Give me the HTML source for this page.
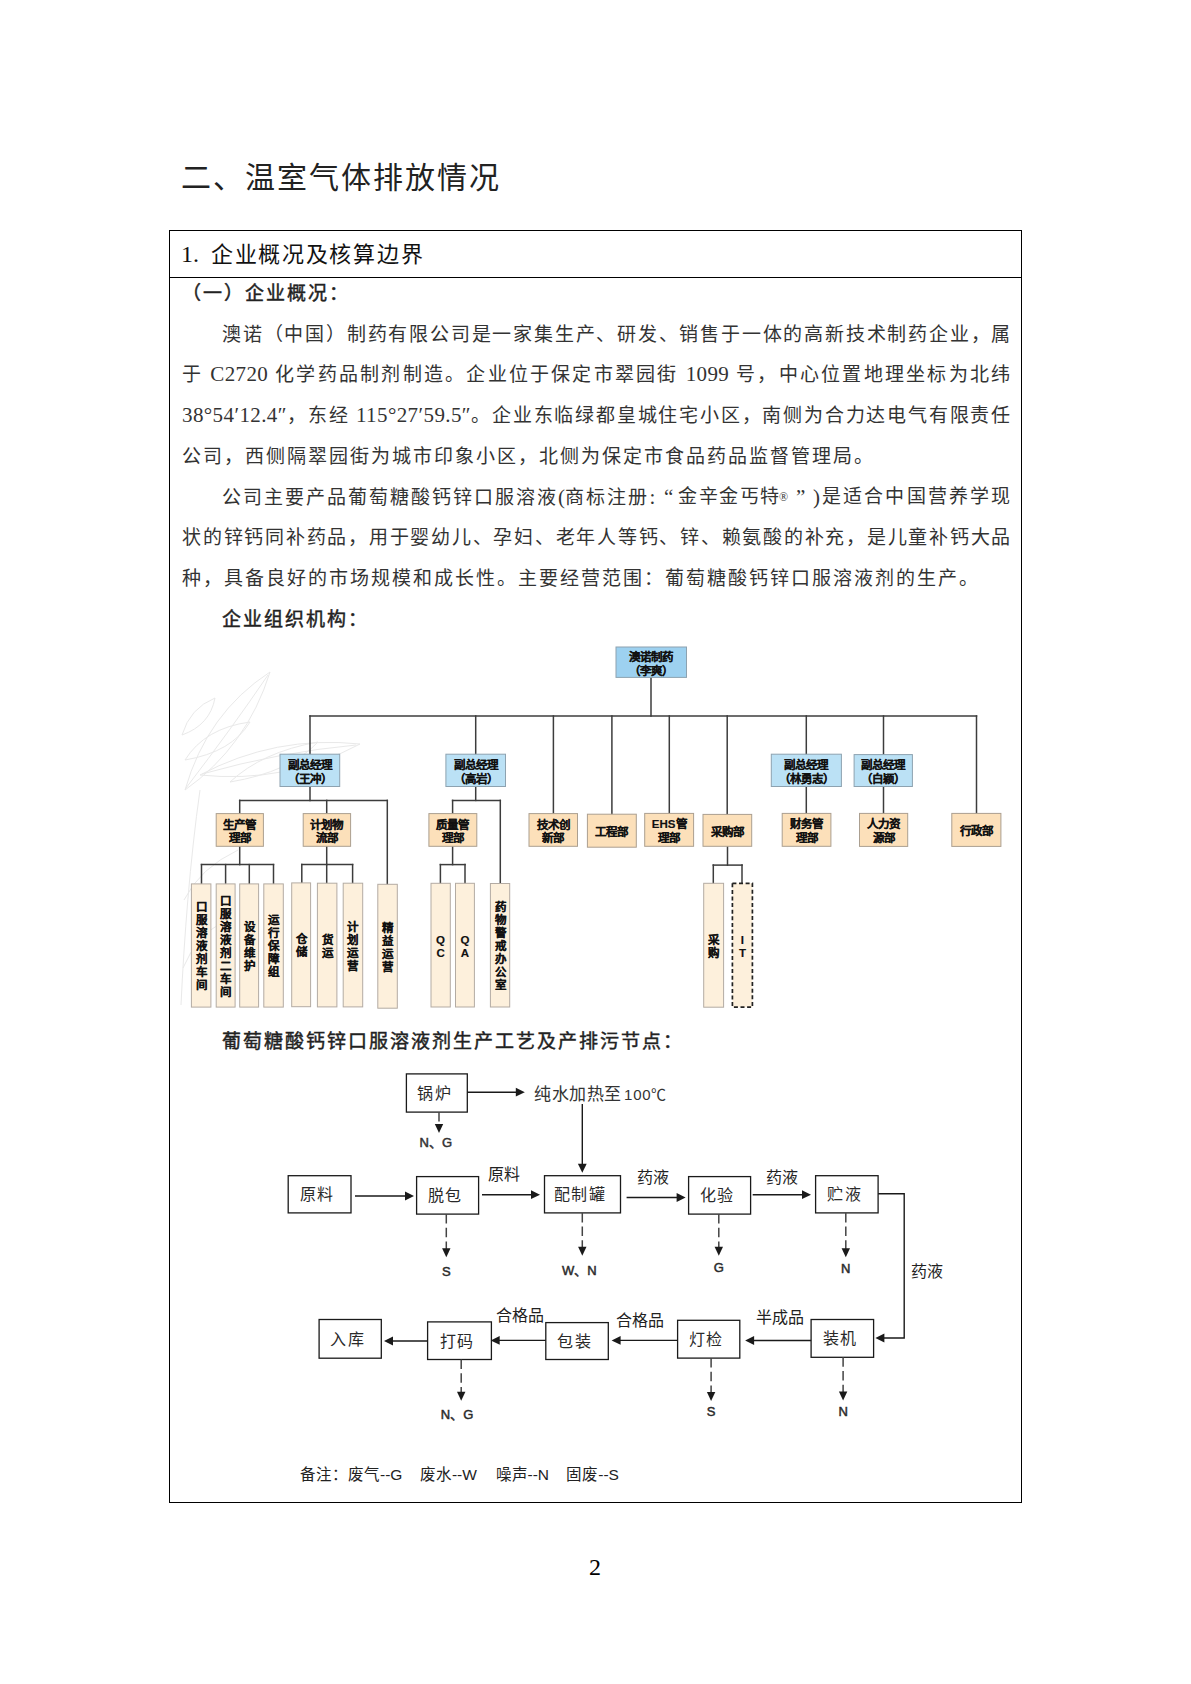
<!DOCTYPE html>
<html lang="zh-CN">
<head>
<meta charset="utf-8">
<style>
html,body{margin:0;padding:0;background:#fff;}
body{width:1191px;height:1684px;position:relative;overflow:hidden;font-family:"Liberation Serif",serif;color:#000;}
.a{position:absolute;white-space:nowrap;}
.title{left:181px;top:158px;font-size:30px;line-height:40px;letter-spacing:2px;color:#222;}
.tbl{position:absolute;left:169px;top:230px;width:851px;height:1271px;border:1px solid #000;}
.hdr{position:absolute;left:169px;top:277px;width:853px;height:1px;background:#000;}
.h1{left:181px;top:238px;font-size:22px;line-height:32px;letter-spacing:1.7px;color:#111;}
.ln{position:absolute;left:182px;width:830px;font-size:19px;letter-spacing:2px;line-height:30px;height:30px;white-space:nowrap;text-align:justify;text-align-last:justify;color:#333;}
.e{font-size:21px;letter-spacing:0.4px;}
.q{display:inline-block;width:19px;font-size:21px;letter-spacing:0;}
.ln.ind{left:222px;width:790px;}
.ln.l{text-align:left;text-align-last:left;}
.b{font-weight:normal;-webkit-text-stroke:0.45px #222;color:#222;}
.org{position:absolute;left:0;top:0;}
.pg{left:589px;top:1552px;font-size:24px;line-height:30px;}
</style>
</head>
<body>
<div class="a title">二、温室气体排放情况</div>
<div class="tbl"></div>
<div class="hdr"></div>
<div class="a h1"><span style="font-size:24px;letter-spacing:0">1.</span><span style="display:inline-block;width:12px"></span>企业概况及核算边界</div>

<div class="ln l b" style="top:279px;left:182px;">（一）企业概况：</div>
<div class="ln ind" style="top:320px;letter-spacing:1.6px">澳诺（中国）制药有限公司是一家集生产、研发、销售于一体的高新技术制药企业，属</div>
<div class="ln" style="top:359px;">于 <span class="e">C2720</span> 化学药品制剂制造。企业位于保定市翠园街 <span class="e">1099</span> 号，中心位置地理坐标为北纬</div>
<div class="ln" style="top:400px;letter-spacing:1.7px"><span class="e">38°54′12.4″</span>，东经 <span class="e">115°27′59.5″</span>。企业东临绿都皇城住宅小区，南侧为合力达电气有限责任</div>
<div class="ln l" style="top:442px;">公司，西侧隔翠园街为城市印象小区，北侧为保定市食品药品监督管理局。</div>
<div class="ln l" style="top:482px;left:222px;width:450px;">公司主要产品葡萄糖酸钙锌口服溶液<span class="e">(</span>商标注册<span class="e">:</span></div><div class="ln l" style="top:482px;left:664px;width:160px;letter-spacing:1.5px"><span class="e">“</span></div><div class="ln l" style="top:482px;left:678px;width:160px;letter-spacing:1.5px">金辛金丐特</div><div class="ln l" style="top:482px;left:779px;width:40px;"><span class="e" style="font-size:12px;position:relative;top:-2px">®</span></div><div class="ln l" style="top:482px;left:796px;width:30px;"><span class="e">”</span></div><div class="ln l" style="top:482px;left:813px;width:30px;"><span class="e">)</span></div><div class="ln" style="top:482px;left:822px;width:190px;">是适合中国营养学现</div>
<div class="ln" style="top:523px;letter-spacing:1.6px">状的锌钙同补药品，用于婴幼儿、孕妇、老年人等钙、锌、赖氨酸的补充，是儿童补钙大品</div>
<div class="ln l" style="top:564px;">种，具备良好的市场规模和成长性。主要经营范围：葡萄糖酸钙锌口服溶液剂的生产。</div>
<div class="ln l b" style="top:605px;left:222px;">企业组织机构：</div>

<div class="ln l b" style="top:1027px;left:222px;">葡萄糖酸钙锌口服溶液剂生产工艺及产排污节点：</div>

<!--ORG--><svg class="org" width="1191" height="1684" viewBox="0 0 1191 1684"><g fill="none" stroke="#e9e9e9" stroke-width="1"><path d="M185,790 Q207,713 270,672 Q247,746 185,790 Z"/><path d="M186,788 Q232,728 268,675"/><path d="M200,775 Q275,735 360,744 Q285,784 200,775 Z"/><path d="M202,774 Q280,752 356,745"/><path d="M182,735 Q190,708 215,698 Q210,725 182,735 Z"/><path d="M185,760 Q205,728 250,722 Q232,752 185,760 Z"/><path d="M230,782 Q262,752 318,742 Q290,772 230,782 Z"/><path d="M181,1005 C184,940 190,860 200,790"/><path d="M184,900 Q200,868 238,850"/><path d="M183,968 Q196,936 226,920"/></g><g stroke="#3c3c3c" stroke-width="1.5" stroke-linecap="square"><line x1="651" y1="677" x2="651" y2="716"/><line x1="310" y1="716" x2="976.5" y2="716"/><line x1="310" y1="716" x2="310" y2="754"/><line x1="475.7" y1="716" x2="475.7" y2="754"/><line x1="553.4" y1="716" x2="553.4" y2="813.6"/><line x1="611.9" y1="716" x2="611.9" y2="814"/><line x1="669.3" y1="716" x2="669.3" y2="813.4"/><line x1="727.2" y1="716" x2="727.2" y2="814"/><line x1="806.3" y1="716" x2="806.3" y2="754"/><line x1="883.5" y1="716" x2="883.5" y2="754.5"/><line x1="976.5" y1="716" x2="976.5" y2="813.4"/><line x1="310" y1="786.5" x2="310" y2="800.4"/><line x1="239.7" y1="800.4" x2="387.3" y2="800.4"/><line x1="239.7" y1="800.4" x2="239.7" y2="813.6"/><line x1="326.7" y1="800.4" x2="326.7" y2="813.6"/><line x1="387.3" y1="800.4" x2="387.3" y2="884.3"/><line x1="239.7" y1="846.3" x2="239.7" y2="864.6"/><line x1="201.5" y1="864.6" x2="273.5" y2="864.6"/><line x1="201.5" y1="864.6" x2="201.5" y2="883.9"/><line x1="225.6" y1="864.6" x2="225.6" y2="883.9"/><line x1="249.3" y1="864.6" x2="249.3" y2="883.9"/><line x1="273.5" y1="864.6" x2="273.5" y2="883.9"/><line x1="326.7" y1="846.3" x2="326.7" y2="864.6"/><line x1="301.8" y1="864.6" x2="352.6" y2="864.6"/><line x1="301.8" y1="864.6" x2="301.8" y2="883"/><line x1="326.7" y1="864.6" x2="326.7" y2="883"/><line x1="352.6" y1="864.6" x2="352.6" y2="883"/><line x1="475.7" y1="786.5" x2="475.7" y2="800.4"/><line x1="452.6" y1="800.4" x2="500.3" y2="800.4"/><line x1="452.6" y1="800.4" x2="452.6" y2="813.6"/><line x1="500.3" y1="800.4" x2="500.3" y2="883.5"/><line x1="452.6" y1="846.3" x2="452.6" y2="864.6"/><line x1="440.4" y1="864.6" x2="465" y2="864.6"/><line x1="440.4" y1="864.6" x2="440.4" y2="883.3"/><line x1="465" y1="864.6" x2="465" y2="883.3"/><line x1="727.5" y1="846.3" x2="727.5" y2="865.1"/><line x1="713.3" y1="865.1" x2="742" y2="865.1"/><line x1="713.3" y1="865.1" x2="713.3" y2="883.3"/><line x1="742" y1="865.1" x2="742" y2="883.3"/><line x1="806.3" y1="786.5" x2="806.3" y2="813.4"/><line x1="883.5" y1="786.5" x2="883.5" y2="813.4"/></g><g><rect x="616" y="647" width="70.5" height="30.4" fill="#9dd1f0" stroke="#8da2b0" stroke-width="1"/><rect x="280" y="754.2" width="59.7" height="32.3" fill="#bbe1f5" stroke="#8da2b0" stroke-width="1"/><rect x="445.9" y="754.2" width="59.6" height="32.3" fill="#bbe1f5" stroke="#8da2b0" stroke-width="1"/><rect x="771.3" y="754.2" width="70.1" height="32.3" fill="#bbe1f5" stroke="#8da2b0" stroke-width="1"/><rect x="854.1" y="754.6" width="58.3" height="31.9" fill="#bbe1f5" stroke="#8da2b0" stroke-width="1"/><rect x="216.2" y="813.6" width="47.2" height="32.7" fill="#fce0ba" stroke="#ab9f90" stroke-width="1"/><rect x="303.2" y="813.6" width="47.4" height="32.7" fill="#fce0ba" stroke="#ab9f90" stroke-width="1"/><rect x="428.9" y="813.6" width="47.9" height="32.7" fill="#fce0ba" stroke="#ab9f90" stroke-width="1"/><rect x="529" y="813.6" width="48.5" height="32.7" fill="#fce0ba" stroke="#ab9f90" stroke-width="1"/><rect x="587.4" y="814.2" width="48.9" height="33.0" fill="#fce0ba" stroke="#ab9f90" stroke-width="1"/><rect x="644.7" y="813.4" width="48.9" height="32.9" fill="#fce0ba" stroke="#ab9f90" stroke-width="1"/><rect x="703" y="814.4" width="48.7" height="31.9" fill="#fce0ba" stroke="#ab9f90" stroke-width="1"/><rect x="782.2" y="813.4" width="48.7" height="32.9" fill="#fce0ba" stroke="#ab9f90" stroke-width="1"/><rect x="859.5" y="813.4" width="48.2" height="33.0" fill="#fce0ba" stroke="#ab9f90" stroke-width="1"/><rect x="951.8" y="813.4" width="49.1" height="33.0" fill="#fce0ba" stroke="#ab9f90" stroke-width="1"/><rect x="191.4" y="883.9" width="19.5" height="123.2" fill="#fdf0dc" stroke="#b3aba3" stroke-width="1"/><rect x="216.2" y="883.9" width="18.9" height="123.2" fill="#fdf0dc" stroke="#b3aba3" stroke-width="1"/><rect x="239.7" y="883.9" width="18.9" height="123.2" fill="#fdf0dc" stroke="#b3aba3" stroke-width="1"/><rect x="263.8" y="883.9" width="19.5" height="123.2" fill="#fdf0dc" stroke="#b3aba3" stroke-width="1"/><rect x="291.7" y="882.9" width="18.9" height="123.8" fill="#fdf0dc" stroke="#b3aba3" stroke-width="1"/><rect x="317.4" y="883.2" width="19.5" height="123.7" fill="#fdf0dc" stroke="#b3aba3" stroke-width="1"/><rect x="343.2" y="883.2" width="19.5" height="123.7" fill="#fdf0dc" stroke="#b3aba3" stroke-width="1"/><rect x="377.8" y="884.3" width="19.5" height="123.9" fill="#fdf0dc" stroke="#b3aba3" stroke-width="1"/><rect x="431" y="883.3" width="19.3" height="123.7" fill="#fdf0dc" stroke="#b3aba3" stroke-width="1"/><rect x="455.5" y="883.3" width="18.9" height="123.7" fill="#fdf0dc" stroke="#b3aba3" stroke-width="1"/><rect x="490.4" y="883.5" width="19.3" height="123.5" fill="#fdf0dc" stroke="#b3aba3" stroke-width="1"/><rect x="703.7" y="883.3" width="19.9" height="123.9" fill="#fdf0dc" stroke="#b3aba3" stroke-width="1"/><rect x="732.4" y="883.3" width="20.0" height="123.9" fill="#fdf0dc" stroke="#222" stroke-width="1.7" stroke-dasharray="4,2.6"/></g><g font-family="Liberation Sans, sans-serif" font-weight="bold" fill="#111" stroke="#111" stroke-width="0.15" text-anchor="middle"><text x="651.2" y="660.5" font-size="11.5">澳诺制药</text><text x="651.2" y="674.5" font-size="11.5">（李爽）</text><text x="309.9" y="768.7" font-size="11.5">副总经理</text><text x="309.9" y="782.7" font-size="11.5">（王冲）</text><text x="475.7" y="768.7" font-size="11.5">副总经理</text><text x="475.7" y="782.7" font-size="11.5">（高岩）</text><text x="806.3" y="768.7" font-size="11.5">副总经理</text><text x="806.3" y="782.7" font-size="11.5">（林勇志）</text><text x="883.2" y="768.9" font-size="11.5">副总经理</text><text x="883.2" y="782.9" font-size="11.5">（白颖）</text><text x="239.8" y="828.5" font-size="11.5">生产管</text><text x="239.8" y="842.1" font-size="11.5">理部</text><text x="326.9" y="828.5" font-size="11.5">计划物</text><text x="326.9" y="842.1" font-size="11.5">流部</text><text x="452.9" y="828.5" font-size="11.5">质量管</text><text x="452.9" y="842.1" font-size="11.5">理部</text><text x="553.2" y="828.5" font-size="11.5">技术创</text><text x="553.2" y="842.1" font-size="11.5">新部</text><text x="611.8" y="836.0" font-size="11.5">工程部</text><text x="669.2" y="828.4" font-size="11.5">EHS管</text><text x="669.2" y="842.0" font-size="11.5">理部</text><text x="727.4" y="835.7" font-size="11.5">采购部</text><text x="806.5" y="828.4" font-size="11.5">财务管</text><text x="806.5" y="842.0" font-size="11.5">理部</text><text x="883.6" y="828.4" font-size="11.5">人力资</text><text x="883.6" y="842.0" font-size="11.5">源部</text><text x="976.3" y="835.2" font-size="11.5">行政部</text><text x="201.2" y="911.4" font-size="11.5">口</text><text x="201.2" y="924.4" font-size="11.5">服</text><text x="201.2" y="937.4" font-size="11.5">溶</text><text x="201.2" y="950.4" font-size="11.5">液</text><text x="201.2" y="963.4" font-size="11.5">剂</text><text x="201.2" y="976.4" font-size="11.5">车</text><text x="201.2" y="989.4" font-size="11.5">间</text><text x="225.6" y="904.9" font-size="11.5">口</text><text x="225.6" y="917.9" font-size="11.5">服</text><text x="225.6" y="930.9" font-size="11.5">溶</text><text x="225.6" y="943.9" font-size="11.5">液</text><text x="225.6" y="956.9" font-size="11.5">剂</text><text x="225.6" y="969.9" font-size="11.5">二</text><text x="225.6" y="982.9" font-size="11.5">车</text><text x="225.6" y="995.9" font-size="11.5">间</text><text x="249.2" y="930.9" font-size="11.5">设</text><text x="249.2" y="943.9" font-size="11.5">备</text><text x="249.2" y="956.9" font-size="11.5">维</text><text x="249.2" y="969.9" font-size="11.5">护</text><text x="273.6" y="924.4" font-size="11.5">运</text><text x="273.6" y="937.4" font-size="11.5">行</text><text x="273.6" y="950.4" font-size="11.5">保</text><text x="273.6" y="963.4" font-size="11.5">障</text><text x="273.6" y="976.4" font-size="11.5">组</text><text x="301.1" y="943.2" font-size="11.5">仓</text><text x="301.1" y="956.2" font-size="11.5">储</text><text x="327.1" y="943.5" font-size="11.5">货</text><text x="327.1" y="956.5" font-size="11.5">运</text><text x="352.9" y="930.5" font-size="11.5">计</text><text x="352.9" y="943.5" font-size="11.5">划</text><text x="352.9" y="956.5" font-size="11.5">运</text><text x="352.9" y="969.5" font-size="11.5">营</text><text x="387.6" y="931.7" font-size="11.5">精</text><text x="387.6" y="944.7" font-size="11.5">益</text><text x="387.6" y="957.7" font-size="11.5">运</text><text x="387.6" y="970.7" font-size="11.5">营</text><text x="440.6" y="943.6" font-size="11.5">Q</text><text x="440.6" y="956.6" font-size="11.5">C</text><text x="464.9" y="943.6" font-size="11.5">Q</text><text x="464.9" y="956.6" font-size="11.5">A</text><text x="500.0" y="911.2" font-size="11.5">药</text><text x="500.0" y="924.2" font-size="11.5">物</text><text x="500.0" y="937.2" font-size="11.5">警</text><text x="500.0" y="950.2" font-size="11.5">戒</text><text x="500.0" y="963.2" font-size="11.5">办</text><text x="500.0" y="976.2" font-size="11.5">公</text><text x="500.0" y="989.2" font-size="11.5">室</text><text x="713.7" y="943.7" font-size="11.5">采</text><text x="713.7" y="956.7" font-size="11.5">购</text><text x="742.4" y="943.7" font-size="11.5">I</text><text x="742.4" y="956.7" font-size="11.5">T</text></g></svg><!--/ORG-->

<!--FLOW--><svg class="org" width="1191" height="1684" viewBox="0 0 1191 1684"><g fill="#fff" stroke="#1a1a1a" stroke-width="1.3"><rect x="406.4" y="1073.9" width="60.9" height="38.2"/><rect x="288.2" y="1175.7" width="62.8" height="37.2"/><rect x="416.6" y="1176.6" width="62.0" height="37.5"/><rect x="544.5" y="1175.7" width="76.0" height="37.2"/><rect x="688.6" y="1176.6" width="62.0" height="37.5"/><rect x="815.6" y="1175.7" width="62.5" height="37.2"/><rect x="811.1" y="1319.5" width="62.5" height="37.8"/><rect x="677.6" y="1320.3" width="62.2" height="37.8"/><rect x="545.8" y="1322.6" width="62.5" height="36.9"/><rect x="427.6" y="1321.9" width="63.8" height="37.6"/><rect x="319.1" y="1319.5" width="62.2" height="38.7"/></g><g stroke="#1a1a1a" stroke-width="1.4"><line x1="467.3" y1="1092.2" x2="516.8" y2="1092.2"/><line x1="582.3" y1="1104" x2="582.3" y2="1164.7"/><line x1="355" y1="1196" x2="406" y2="1196"/><line x1="482" y1="1194.7" x2="532" y2="1194.7"/><line x1="626.6" y1="1197.5" x2="677.6" y2="1197.5"/><line x1="752.7" y1="1194.7" x2="803" y2="1194.7"/><polyline points="878.1,1193.8 904.2,1193.8 904.2,1338 883,1338" fill="none"/><line x1="811.1" y1="1340.5" x2="753.1" y2="1340.5"/><line x1="677.6" y1="1340.4" x2="619.6" y2="1340.4"/><line x1="545.8" y1="1340.4" x2="498.7" y2="1340.4"/><line x1="427.6" y1="1341" x2="392" y2="1341"/></g><g stroke="#444" stroke-width="1.5" stroke-dasharray="9.5,4.2"><line x1="439" y1="1112.1" x2="439" y2="1125"/><line x1="446.3" y1="1214.1" x2="446.3" y2="1249.3"/><line x1="582.3" y1="1212.9" x2="582.3" y2="1247.8"/><line x1="718.8" y1="1214.1" x2="718.8" y2="1247.8"/><line x1="845.8" y1="1212.9" x2="845.8" y2="1249.3"/><line x1="461.2" y1="1359.5" x2="461.2" y2="1392.8"/><line x1="711.1" y1="1358.1" x2="711.1" y2="1392.9"/><line x1="843.1" y1="1357.3" x2="843.1" y2="1392.4"/></g><g fill="#1a1a1a"><polygon points="524.8,1092.2 515.8,1087.8 515.8,1096.6"/><polygon points="582.3,1172.7 577.9,1163.7 586.7,1163.7"/><polygon points="414,1196 405,1191.6 405,1200.4"/><polygon points="540,1194.7 531,1190.3 531,1199.1"/><polygon points="685.6,1197.5 676.6,1193.1 676.6,1201.9"/><polygon points="811,1194.7 802,1190.3 802,1199.1"/><polygon points="875.4,1338 884.4,1333.6 884.4,1342.4"/><polygon points="745.1,1340.5 754.1,1336.1 754.1,1344.9"/><polygon points="611.6,1340.4 620.6,1336.0 620.6,1344.8"/><polygon points="490.7,1340.4 499.7,1336.0 499.7,1344.8"/><polygon points="384,1341 393,1336.6 393,1345.4"/><polygon points="439,1133 434.8,1124 443.2,1124"/><polygon points="446.3,1257.3 442.1,1248.3 450.5,1248.3"/><polygon points="582.3,1255.8 578.1,1246.8 586.5,1246.8"/><polygon points="718.8,1255.8 714.6,1246.8 723.0,1246.8"/><polygon points="845.8,1257.3 841.6,1248.3 850.0,1248.3"/><polygon points="461.2,1400.8 457.0,1391.8 465.4,1391.8"/><polygon points="711.1,1400.9 706.9,1391.9 715.3,1391.9"/><polygon points="843.1,1400.4 838.9,1391.4 847.3,1391.4"/></g><g font-family="Liberation Sans, sans-serif" fill="#2a2a2a"><text x="434.6" y="1098.8" font-size="16" text-anchor="middle" letter-spacing="1.5">锅炉</text><text x="317.3" y="1200.1" font-size="16" text-anchor="middle" letter-spacing="1.5">原料</text><text x="445.3" y="1201.1" font-size="16" text-anchor="middle" letter-spacing="1.5">脱包</text><text x="580.2" y="1200.1" font-size="16" text-anchor="middle" letter-spacing="1.5">配制罐</text><text x="717.3" y="1201.1" font-size="16" text-anchor="middle" letter-spacing="1.5">化验</text><text x="844.6" y="1200.1" font-size="16" text-anchor="middle" letter-spacing="1.5">贮液</text><text x="840.1" y="1344.2" font-size="16" text-anchor="middle" letter-spacing="1.5">装机</text><text x="706.4" y="1345.0" font-size="16" text-anchor="middle" letter-spacing="1.5">灯检</text><text x="574.8" y="1346.8" font-size="16" text-anchor="middle" letter-spacing="1.5">包装</text><text x="457.2" y="1346.5" font-size="16" text-anchor="middle" letter-spacing="1.5">打码</text><text x="347.9" y="1344.6" font-size="16" text-anchor="middle" letter-spacing="1.5">入库</text><text x="534" y="1100" font-size="17" text-anchor="start" fill="#333" letter-spacing="0.6">纯水加热至</text><text x="624" y="1100" font-size="15" text-anchor="start" fill="#333" letter-spacing="0.8">100℃</text><text x="435.8" y="1147" font-size="13" text-anchor="middle" fill="#333" letter-spacing="0" stroke="#333" stroke-width="0.5">N、G</text><text x="503.7" y="1180" font-size="16" text-anchor="middle" fill="#222" letter-spacing="0">原料</text><text x="653.1" y="1182.6" font-size="16" text-anchor="middle" fill="#222" letter-spacing="0">药液</text><text x="782" y="1183.3" font-size="16" text-anchor="middle" fill="#222" letter-spacing="0">药液</text><text x="927.4" y="1277" font-size="16" text-anchor="middle" fill="#222" letter-spacing="0">药液</text><text x="446.3" y="1275.5" font-size="13" text-anchor="middle" fill="#222" letter-spacing="0" stroke="#333" stroke-width="0.5">S</text><text x="579.3" y="1275" font-size="13" text-anchor="middle" fill="#222" letter-spacing="0" stroke="#333" stroke-width="0.5">W、N</text><text x="718.8" y="1271.5" font-size="13" text-anchor="middle" fill="#222" letter-spacing="0" stroke="#333" stroke-width="0.5">G</text><text x="845.8" y="1273.3" font-size="13" text-anchor="middle" fill="#222" letter-spacing="0" stroke="#333" stroke-width="0.5">N</text><text x="779.8" y="1323.3" font-size="16" text-anchor="middle" fill="#222" letter-spacing="0">半成品</text><text x="520" y="1321" font-size="16" text-anchor="middle" fill="#222" letter-spacing="0">合格品</text><text x="640.3" y="1326.3" font-size="16" text-anchor="middle" fill="#222" letter-spacing="0">合格品</text><text x="711.1" y="1416" font-size="13" text-anchor="middle" fill="#222" letter-spacing="0" stroke="#333" stroke-width="0.5">S</text><text x="843.1" y="1415.5" font-size="13" text-anchor="middle" fill="#222" letter-spacing="0" stroke="#333" stroke-width="0.5">N</text><text x="457" y="1419.3" font-size="13" text-anchor="middle" fill="#222" letter-spacing="0" stroke="#333" stroke-width="0.5">N、G</text><text x="300" y="1480" font-size="15.5" text-anchor="start" fill="#222" letter-spacing="0">备注：废气--G</text><text x="419.9" y="1480" font-size="15.5" text-anchor="start" fill="#222" letter-spacing="0">废水--W</text><text x="495.5" y="1480" font-size="15.5" text-anchor="start" fill="#222" letter-spacing="0">噪声--N</text><text x="566.3" y="1480" font-size="15.5" text-anchor="start" fill="#222" letter-spacing="0">固废--S</text></g></svg><!--/FLOW-->

<div class="a pg">2</div>
</body>
</html>
